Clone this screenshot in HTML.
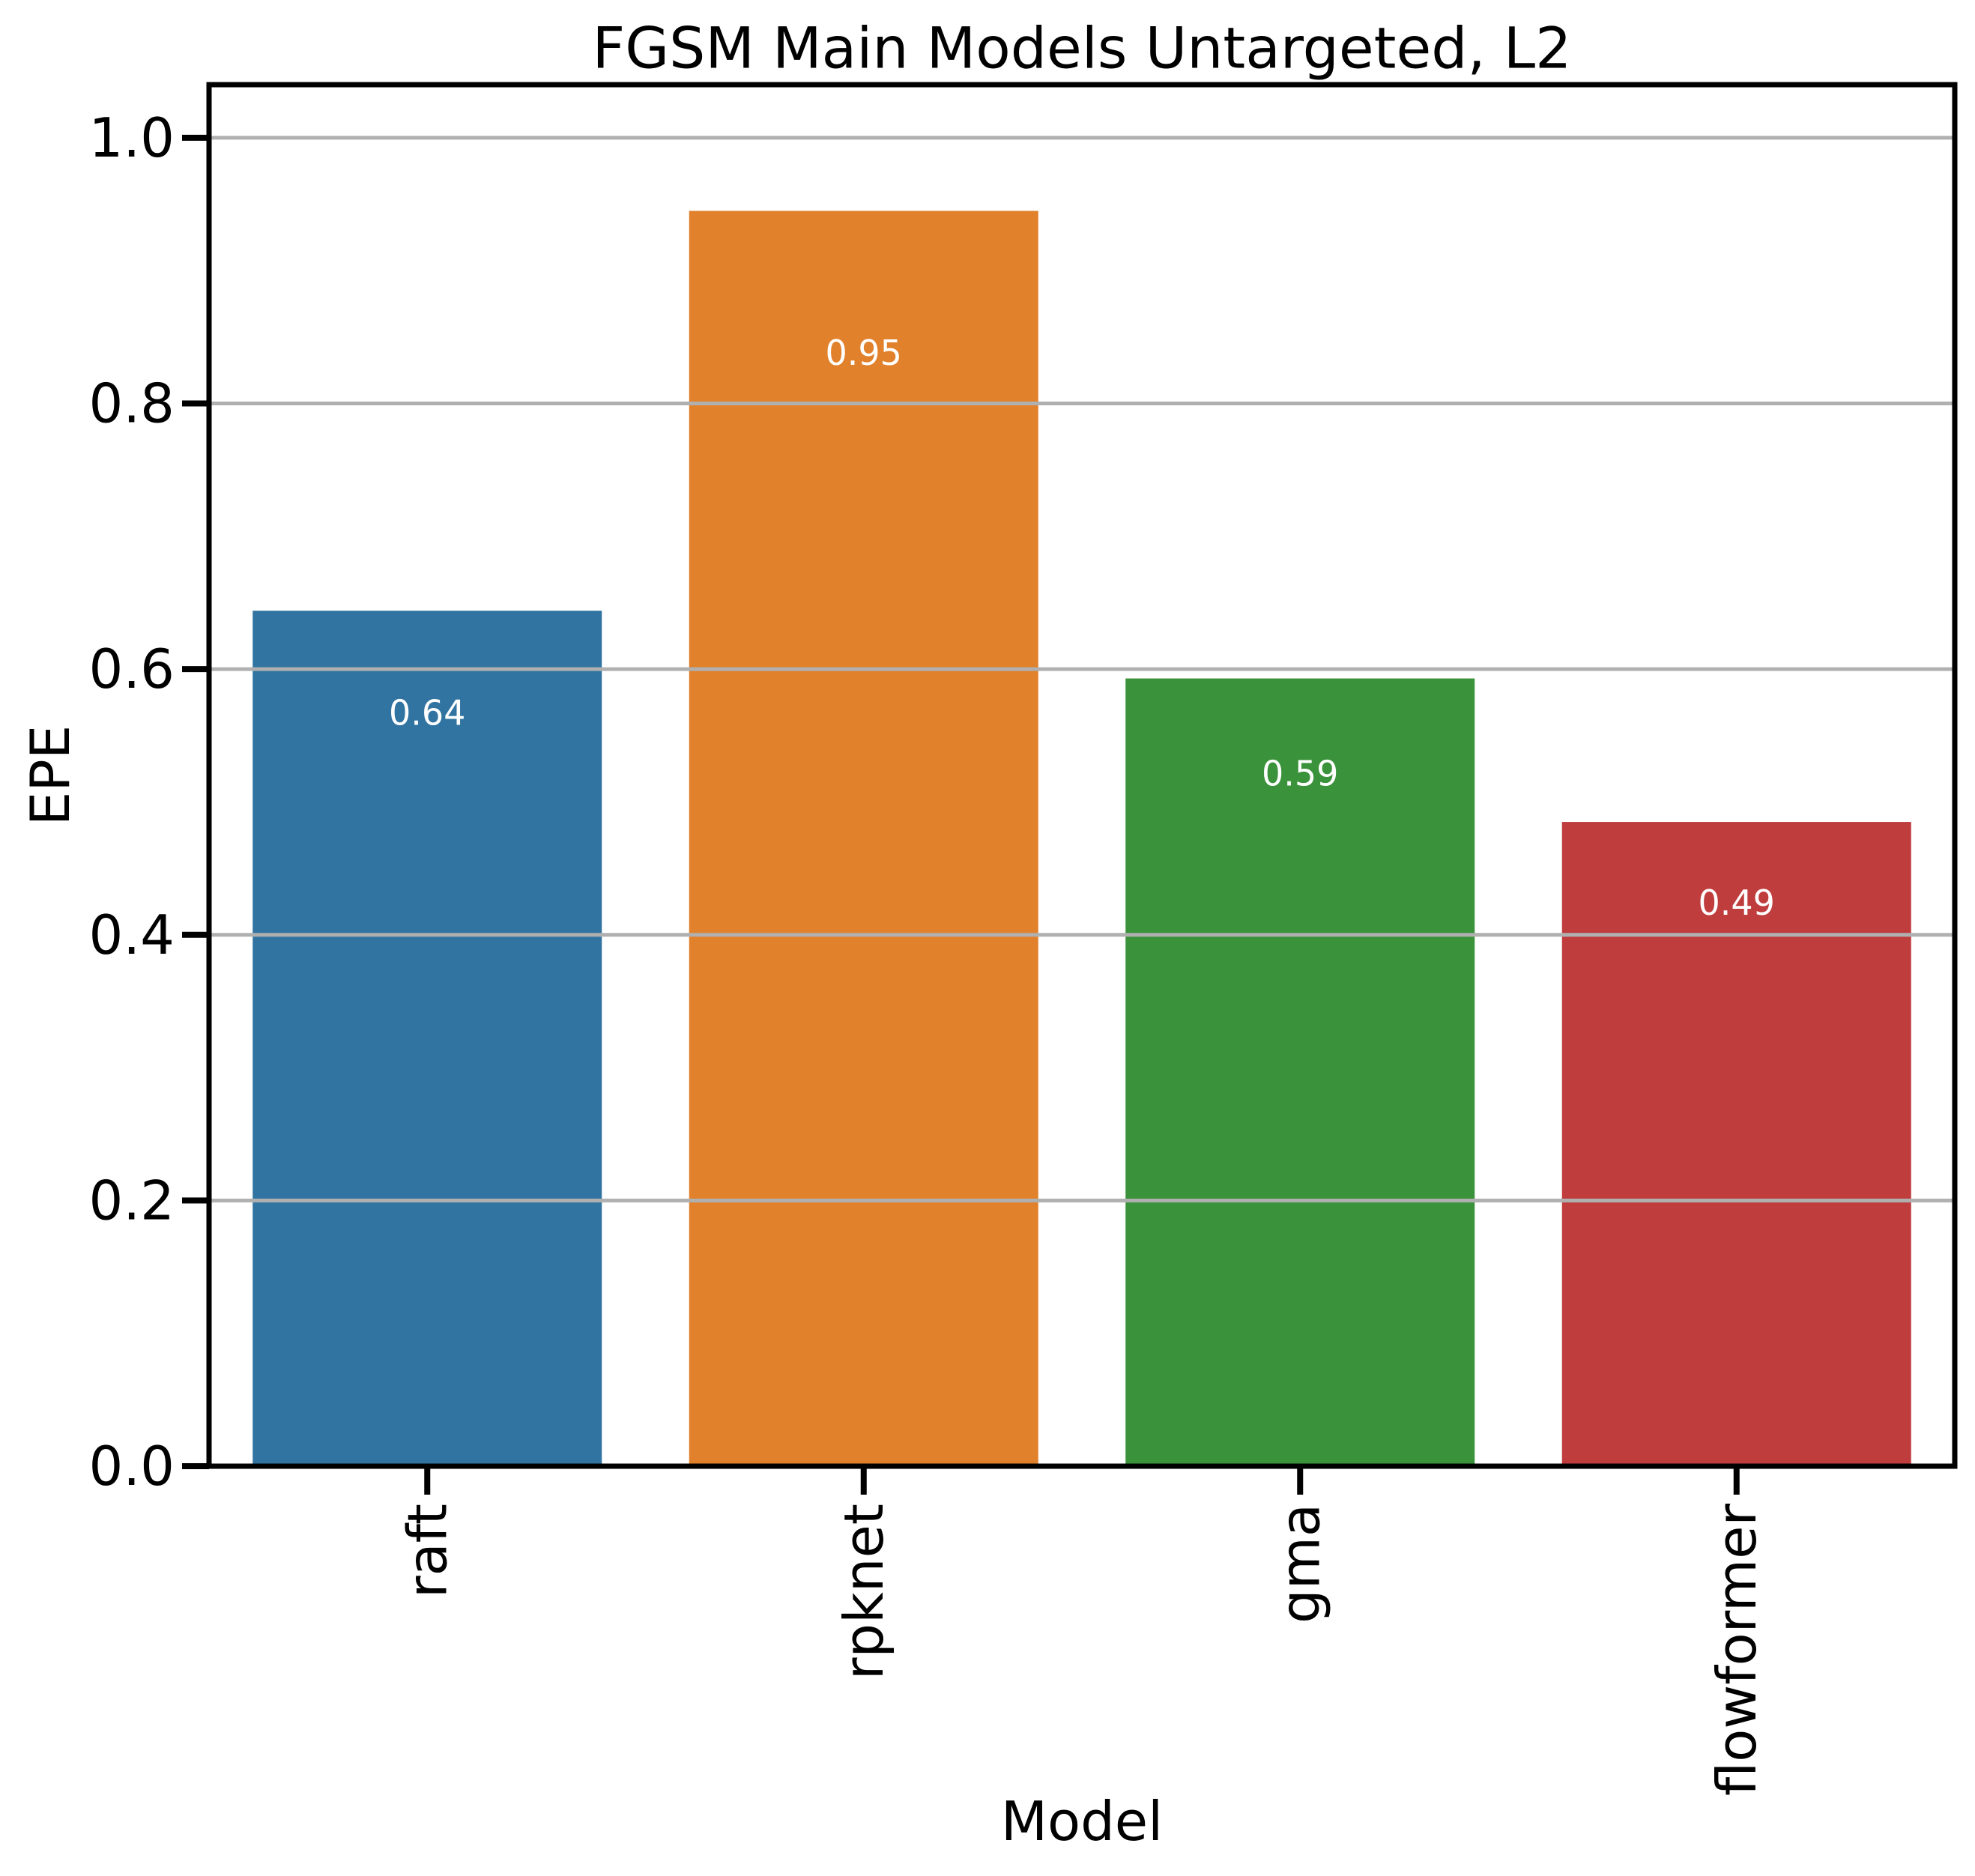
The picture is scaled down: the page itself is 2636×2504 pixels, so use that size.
<!DOCTYPE html>
<html><head><meta charset="utf-8"><style>
html,body{margin:0;padding:0;background:#fff;}
svg{display:block;font-family:"DejaVu Sans","Liberation Sans",sans-serif;}
</style></head><body>
<svg id="chart" width="2636" height="2504" viewBox="0 0 2636 2504"></svg>
<script>
const categories = ["raft","rpknet","gma","flowformer"];
const values = [0.644, 0.945, 0.593, 0.485];
const valueLabels = ["0.64","0.95","0.59","0.49"];
const colors = ["#3274a1","#e1812c","#3a923a","#c03d3e"];
const yTicks = [0,0.2,0.4,0.6,0.8,1.0];
const yTickLabels = ["0.0","0.2","0.4","0.6","0.8","1.0"];

const L=279,R=2609,T=113,B=1957,yMax=1.04;
const NS="http://www.w3.org/2000/svg";
const svg=document.getElementById('chart');
function y(v){return B-(v/yMax)*(B-T);}
const band=(R-L)/categories.length;
function xc(i){return L+band*(i+0.5);}
function mk(tag,attrs,parent){const e=document.createElementNS(NS,tag);for(const k in attrs)e.setAttribute(k,attrs[k]);(parent||svg).appendChild(e);return e;}

categories.forEach((c,i)=>{
  const bw=band*0.8;
  const r=mk('rect',{x:xc(i)-bw/2,y:y(values[i]),width:bw,height:B-y(values[i]),fill:colors[i]});
  
  
});
yTicks.forEach((t,i)=>{
  const g=mk('line',{x1:L,x2:R,y1:y(t),y2:y(t),stroke:'#b0b0b0','stroke-width':5});
  
  
});
categories.forEach((c,i)=>{
  const t=mk('text',{x:xc(i),y:y(values[i]*0.9)+22,'text-anchor':'middle','dominant-baseline':'central','font-size':46,fill:'#fff'});
  t.textContent=valueLabels[i];
  
  
});
yTicks.forEach((t,i)=>{
  const tk=mk('line',{x1:L-36,x2:L,y1:y(t),y2:y(t),stroke:'#000','stroke-width':8});
  
  
  const lb=mk('text',{x:L-46,y:y(t),'text-anchor':'end','dominant-baseline':'central','font-size':72,fill:'#000'});
  lb.textContent=yTickLabels[i];
  
  
});
categories.forEach((c,i)=>{
  const tk=mk('line',{x1:xc(i),x2:xc(i),y1:B,y2:B+38,stroke:'#000','stroke-width':8});
  
  
  const lb=mk('text',{x:0,y:0,'text-anchor':'end','dominant-baseline':'central','font-size':72,fill:'#000',transform:`translate(${xc(i)},${B+50}) rotate(-90)`});
  lb.textContent=c;
  
  
});
const f=mk('rect',{x:L,y:T,width:R-L,height:B-T,fill:'none',stroke:'#000','stroke-width':7});


const ti=mk('text',{x:(L+R)/2,y:64,'text-anchor':'middle','dominant-baseline':'central','font-size':76,fill:'#000'});
ti.textContent='FGSM Main Models Untargeted, L2';


const xl=mk('text',{x:(L+R)/2,y:2431,'text-anchor':'middle','dominant-baseline':'central','font-size':72,fill:'#000'});
xl.textContent='Model';


const yl=mk('text',{x:0,y:0,'text-anchor':'middle','dominant-baseline':'central','font-size':72,fill:'#000',transform:`translate(67,${(T+B)/2}) rotate(-90)`});
yl.textContent='EPE';


</script>
</body></html>
